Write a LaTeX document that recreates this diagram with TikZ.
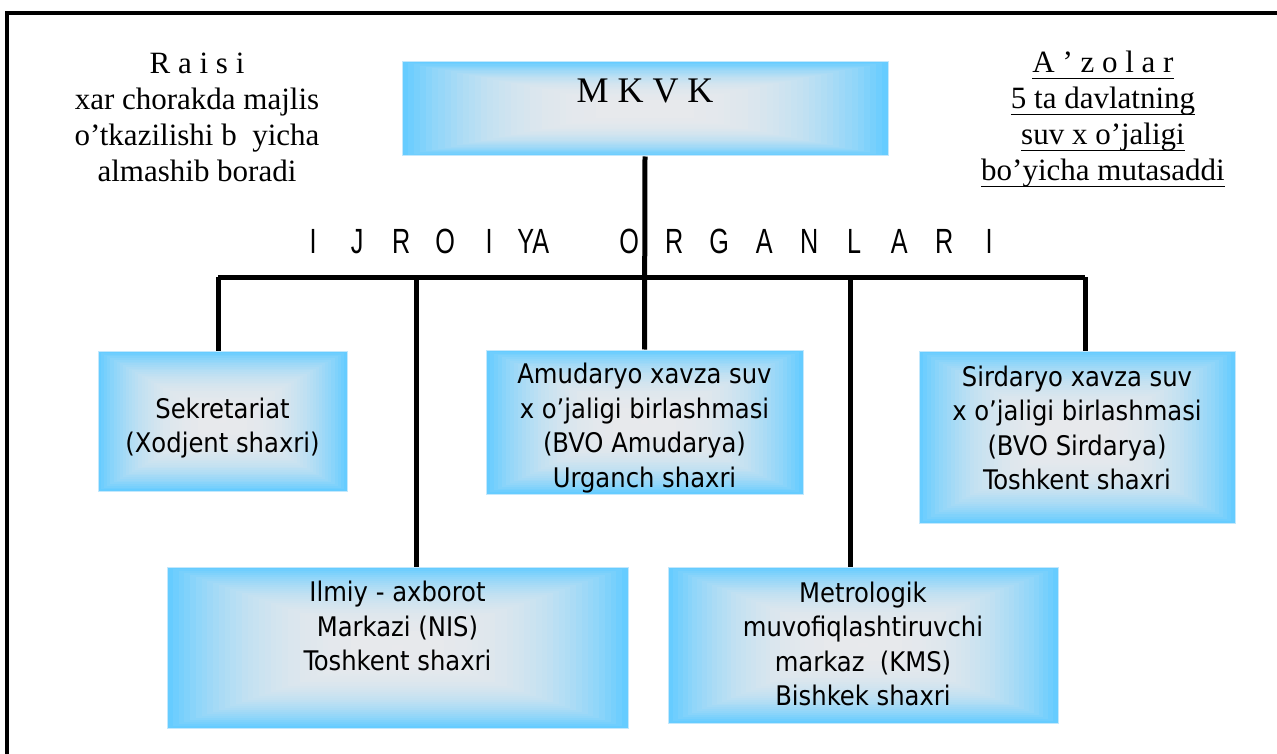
\documentclass[tikz,border=0pt]{standalone}
\usepackage{fontspec}
\setmainfont{Liberation Serif}
\newfontfamily\boxfont{DejaVu Sans Condensed}
\newfontfamily\headfont{Liberation Sans}[FakeStretch=0.72]
\usetikzlibrary{calc}
\definecolor{gblue}{RGB}{102,204,255}
\definecolor{gcore}{RGB}{232,233,236}
\definecolor{gedge}{RGB}{195,232,252}
\newcommand\myul[1]{\setbox0\hbox{#1}\rlap{\rule[-6.5pt]{\wd0}{1.3pt}}\box0}
\newcommand\hl[1]{\makebox[44pt]{#1}}
\newcommand\hr[1]{\makebox[45pt]{#1}}
\tikzset{
  gbox/.style={rectangle, draw=gedge, line width=1pt, inner sep=0pt,
    path picture={
      \foreach \i in {40,39,...,1}{
        \pgfmathsetmacro\s{\i/40}
        \pgfmathtruncatemacro\p{100*(1-\s*\s*\s)}
        \fill[gcore!\p!gblue]
          ($(path picture bounding box.center)!\s!(path picture bounding box.south west)$)
          rectangle
          ($(path picture bounding box.center)!\s!(path picture bounding box.north east)$);
      }
    }},
  btext/.style={font=\boxfont\fontsize{27}{34.5}\selectfont, align=center, inner sep=0pt},
  ttext/.style={font=\fontsize{31}{36}\selectfont, align=center, inner sep=0pt},
  conn/.style={line width=5pt, black},
}
\begin{document}
\begin{tikzpicture}[x=1pt,y=-1pt]
\useasboundingbox (0,0) rectangle (1277,754);
\draw[line width=4pt] (7,756) -- (7,13) -- (1279,13);

% boxes
\node[gbox, minimum width=486pt, minimum height=94pt] (mkvk) at (645,109) {};
\node[gbox, minimum width=249pt, minimum height=140pt] (sek) at (222.5,421) {};
\node[gbox, minimum width=317pt, minimum height=144pt] (amu) at (644.5,422) {};
\node[gbox, minimum width=316pt, minimum height=172pt] (sir) at (1077,437) {};
\node[gbox, minimum width=461pt, minimum height=161pt] (ilm) at (397.5,647.5) {};
\node[gbox, minimum width=390pt, minimum height=156pt] (met) at (863,645) {};

% texts
\node[font=\fontsize{36}{40}\selectfont, inner sep=0pt, anchor=base] (mkvkt) at (645,103) {M K V K};
\node[btext] (sekt) at (222.5,428) {Sekretariat\\(Xodjent shaxri)};
\node[btext] (amut) at (644.5,428) {Amudaryo xavza suv\\x o’jaligi birlashmasi\\(BVO Amudarya)\\Urganch shaxri};
\node[btext] (sirt) at (1077,428) {Sirdaryo xavza suv\\x o’jaligi birlashmasi\\(BVO Sirdarya)\\Toshkent shaxri};
\node[btext] (ilmt) at (397.5,626) {Ilmiy - axborot\\Markazi (NIS)\\Toshkent shaxri};
\node[btext] (mett) at (863,644) {Metrologik\\muvofiqlashtiruvchi\\markaz\ \ (KMS)\\Bishkek shaxri};

\node[ttext] (raisi) at (197,117) {R a i s i\\xar chorakda majlis\\o’tkazilishi b\ \ yicha\\almashib boradi};
\node[ttext] (azolar) at (1103,119) {\myul{A ’ z o l a r}\\\myul{5 ta davlatning}\\\myul{suv x o’jaligi}\\\myul{bo’yicha mutasaddi}};

\node[font=\headfont\fontsize{35}{38}\selectfont, inner sep=0pt, anchor=base west] (head) at (291,253)
  {\hl{I}\hl{J}\hl{R}\hl{O}\hl{I}\hl{YA}\hspace{51.5pt}\hr{O}\hr{R}\hr{G}\hr{A}\hr{N}\hr{L}\hr{A}\hr{R}\hr{I}};

% connectors
\coordinate (bl) at (218,277);
\coordinate (br) at (1085,277);
\coordinate (ji) at (416,277);
\coordinate (jm) at (850,277);
\draw[conn] (mkvk.south) -- (amu.north);
\draw[conn] (bl) -- (br);
\draw[conn] (bl) -- (bl |- sek.north);
\draw[conn] (br) -- (br |- sir.north);
\draw[conn] (ji) -- (ji |- ilm.north);
\draw[conn] (jm) -- (jm |- met.north);
\end{tikzpicture}
\end{document}
